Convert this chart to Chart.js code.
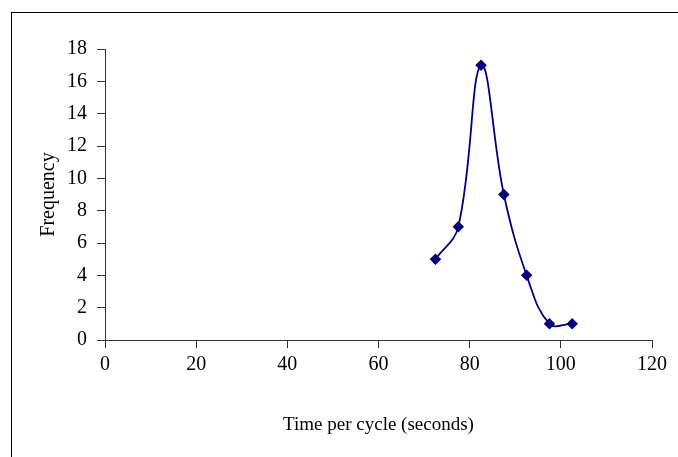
<!DOCTYPE html>
<html>
<head>
<meta charset="utf-8">
<script src="https://cdn.jsdelivr.net/npm/chart.js@4"></script>
<style>
  html, body { margin: 0; padding: 0; background: #fff; }
  #wrap { width: 678px; height: 457px; position: relative; }
</style>
</head>
<body>
<div id="wrap"><canvas id="myChart" width="678" height="457"></canvas></div>
<script>
const timeValues = [72.5, 77.5, 82.5, 87.5, 92.5, 97.5, 102.5];
const frequency = [5, 7, 17, 9, 4, 1, 1];
const xTitle = 'Time per cycle (seconds)';
const yTitle = 'Frequency';

const points = [];
for (let i = 0; i < timeValues.length; i++) {
    points.push({ x: timeValues[i], y: frequency[i] });
}

// outer frame like the Excel chart border
const frame = {
    id: 'frame',
    beforeDraw(chart) {
        const c = chart.ctx;
        c.save();
        c.fillStyle = '#fff';
        c.fillRect(0, 0, chart.width, chart.height);
        c.strokeStyle = '#000';
        c.lineWidth = 1;
        c.strokeRect(11.5, 12.5, 800, 600);
        c.restore();
    }
};

const tickFont = { family: 'Liberation Serif', size: 20 };

const graph = {
    type: 'scatter',
    data: {
        datasets: [{
            label: yTitle,
            data: points,
            showLine: true,
            tension: 0.4,
            borderColor: '#000080',
            backgroundColor: '#000080',
            borderWidth: 1.8,
            pointStyle: 'rectRot',
            pointRadius: 4.5,
            pointHoverRadius: 4.5
        }]
    },
    options: {
        responsive: false,
        animation: false,
        layout: { padding: { left: 0, right: 26, top: 49, bottom: 0 } },
        plugins: { legend: { display: false }, tooltip: { enabled: false } },
        scales: {
            x: {
                type: 'linear',
                min: 0, max: 120,
                ticks: { stepSize: 20, color: '#000', font: tickFont, padding: 5 },
                grid: { drawOnChartArea: false, drawTicks: true, tickLength: 8, color: '#333' },
                border: { display: true, color: '#333' },
                title: { display: true, text: xTitle, color: '#000', font: { family: 'Liberation Serif', size: 19 }, padding: { top: 0, bottom: 21 } },
                afterFit(scale) { scale.height = 117; }
            },
            y: {
                min: 0, max: 18,
                ticks: { stepSize: 2, color: '#000', font: tickFont, padding: 10 },
                grid: { drawOnChartArea: false, drawTicks: true, tickLength: 8, color: '#333' },
                border: { display: true, color: '#333' },
                title: { display: true, text: yTitle, color: '#000', font: { family: 'Liberation Serif', size: 20 }, padding: { top: 37, bottom: 0 } },
                afterFit(scale) { scale.width = 105; }
            }
        }
    },
    plugins: [frame]
};

const ctx = document.getElementById('myChart').getContext('2d');
const myChart = new Chart(ctx, graph);
</script>
</body>
</html>
